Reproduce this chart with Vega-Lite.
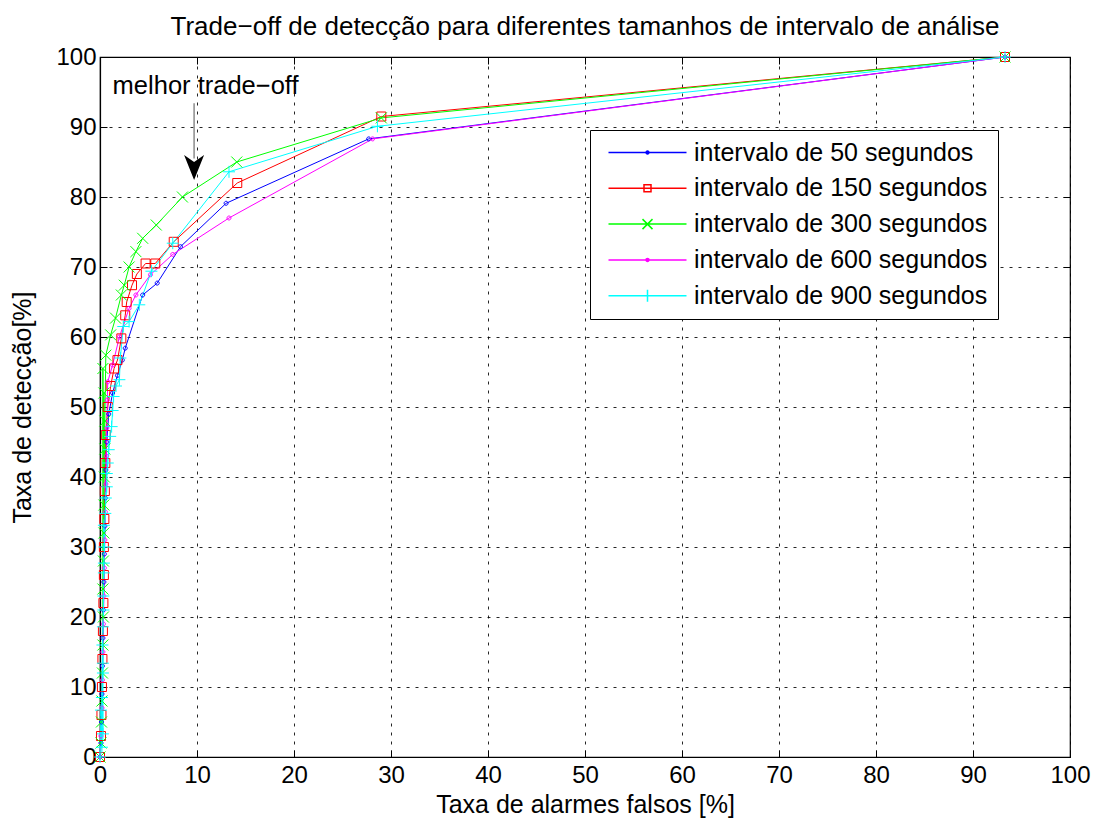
{
  "$schema": "https://vega.github.io/schema/vega-lite/v6.json",
  "width": 970,
  "height": 700,
  "autosize": "none",
  "padding": {"left": 100, "top": 57, "right": 24, "bottom": 69},
  "background": "white",
  "config": {
    "font": "Liberation Sans",
    "view": {"stroke": "black", "strokeWidth": 1.2}
  },
  "title": {
    "text": "Trade−off de detecção para diferentes tamanhos de intervalo de análise",
    "fontSize": 26,
    "fontWeight": "normal",
    "font": "Liberation Sans",
    "color": "black",
    "anchor": "middle",
    "baseline": "alphabetic",
    "offset": -16
  },
  "datasets": {
    "roc": [
      {"series": "intervalo de 50 segundos", "fa": 0, "det": 0},
      {"series": "intervalo de 50 segundos", "fa": 0.1, "det": 2},
      {"series": "intervalo de 50 segundos", "fa": 0.15, "det": 5},
      {"series": "intervalo de 50 segundos", "fa": 0.2, "det": 9},
      {"series": "intervalo de 50 segundos", "fa": 0.25, "det": 13},
      {"series": "intervalo de 50 segundos", "fa": 0.3, "det": 17},
      {"series": "intervalo de 50 segundos", "fa": 0.35, "det": 21},
      {"series": "intervalo de 50 segundos", "fa": 0.4, "det": 25},
      {"series": "intervalo de 50 segundos", "fa": 0.45, "det": 29},
      {"series": "intervalo de 50 segundos", "fa": 0.5, "det": 33},
      {"series": "intervalo de 50 segundos", "fa": 0.55, "det": 37},
      {"series": "intervalo de 50 segundos", "fa": 0.6, "det": 41},
      {"series": "intervalo de 50 segundos", "fa": 0.7, "det": 45},
      {"series": "intervalo de 50 segundos", "fa": 0.9, "det": 49},
      {"series": "intervalo de 50 segundos", "fa": 1.3, "det": 52},
      {"series": "intervalo de 50 segundos", "fa": 1.8, "det": 54.5},
      {"series": "intervalo de 50 segundos", "fa": 2.3, "det": 56.7},
      {"series": "intervalo de 50 segundos", "fa": 2.6, "det": 58.4},
      {"series": "intervalo de 50 segundos", "fa": 4.4, "det": 66},
      {"series": "intervalo de 50 segundos", "fa": 5.9, "det": 67.7},
      {"series": "intervalo de 50 segundos", "fa": 8.3, "det": 72.9},
      {"series": "intervalo de 50 segundos", "fa": 13.0, "det": 79.1},
      {"series": "intervalo de 50 segundos", "fa": 27.7, "det": 88.3},
      {"series": "intervalo de 50 segundos", "fa": 93.3, "det": 100},

      {"series": "intervalo de 150 segundos", "fa": 0, "det": 0},
      {"series": "intervalo de 150 segundos", "fa": 0.1, "det": 3},
      {"series": "intervalo de 150 segundos", "fa": 0.15, "det": 6},
      {"series": "intervalo de 150 segundos", "fa": 0.2, "det": 10},
      {"series": "intervalo de 150 segundos", "fa": 0.25, "det": 14},
      {"series": "intervalo de 150 segundos", "fa": 0.3, "det": 18},
      {"series": "intervalo de 150 segundos", "fa": 0.35, "det": 22},
      {"series": "intervalo de 150 segundos", "fa": 0.4, "det": 26},
      {"series": "intervalo de 150 segundos", "fa": 0.4, "det": 30},
      {"series": "intervalo de 150 segundos", "fa": 0.45, "det": 34},
      {"series": "intervalo de 150 segundos", "fa": 0.5, "det": 38},
      {"series": "intervalo de 150 segundos", "fa": 0.55, "det": 42},
      {"series": "intervalo de 150 segundos", "fa": 0.6, "det": 46},
      {"series": "intervalo de 150 segundos", "fa": 0.8, "det": 50},
      {"series": "intervalo de 150 segundos", "fa": 1.1, "det": 53},
      {"series": "intervalo de 150 segundos", "fa": 1.45, "det": 55.5},
      {"series": "intervalo de 150 segundos", "fa": 1.8, "det": 56.7},
      {"series": "intervalo de 150 segundos", "fa": 2.2, "det": 59.8},
      {"series": "intervalo de 150 segundos", "fa": 2.6, "det": 63.1},
      {"series": "intervalo de 150 segundos", "fa": 2.75, "det": 65},
      {"series": "intervalo de 150 segundos", "fa": 3.3, "det": 67.4},
      {"series": "intervalo de 150 segundos", "fa": 3.8, "det": 69},
      {"series": "intervalo de 150 segundos", "fa": 4.7, "det": 70.5},
      {"series": "intervalo de 150 segundos", "fa": 5.7, "det": 70.5},
      {"series": "intervalo de 150 segundos", "fa": 7.6, "det": 73.6},
      {"series": "intervalo de 150 segundos", "fa": 14.15, "det": 82.0},
      {"series": "intervalo de 150 segundos", "fa": 29.0, "det": 91.5},
      {"series": "intervalo de 150 segundos", "fa": 93.3, "det": 100},

      {"series": "intervalo de 300 segundos", "fa": 0, "det": 0},
      {"series": "intervalo de 300 segundos", "fa": 0.1, "det": 2},
      {"series": "intervalo de 300 segundos", "fa": 0.15, "det": 5},
      {"series": "intervalo de 300 segundos", "fa": 0.2, "det": 8},
      {"series": "intervalo de 300 segundos", "fa": 0.25, "det": 12},
      {"series": "intervalo de 300 segundos", "fa": 0.3, "det": 16},
      {"series": "intervalo de 300 segundos", "fa": 0.35, "det": 20},
      {"series": "intervalo de 300 segundos", "fa": 0.3, "det": 24},
      {"series": "intervalo de 300 segundos", "fa": 0.35, "det": 28},
      {"series": "intervalo de 300 segundos", "fa": 0.4, "det": 32},
      {"series": "intervalo de 300 segundos", "fa": 0.4, "det": 36},
      {"series": "intervalo de 300 segundos", "fa": 0.45, "det": 40},
      {"series": "intervalo de 300 segundos", "fa": 0.5, "det": 44},
      {"series": "intervalo de 300 segundos", "fa": 0.5, "det": 48},
      {"series": "intervalo de 300 segundos", "fa": 0.4, "det": 52},
      {"series": "intervalo de 300 segundos", "fa": 0.3, "det": 55.5},
      {"series": "intervalo de 300 segundos", "fa": 0.6, "det": 57.4},
      {"series": "intervalo de 300 segundos", "fa": 1.1, "det": 60.3},
      {"series": "intervalo de 300 segundos", "fa": 1.6, "det": 62.7},
      {"series": "intervalo de 300 segundos", "fa": 2.2, "det": 66},
      {"series": "intervalo de 300 segundos", "fa": 2.5, "det": 67.4},
      {"series": "intervalo de 300 segundos", "fa": 3.0, "det": 70},
      {"series": "intervalo de 300 segundos", "fa": 3.7, "det": 72.2},
      {"series": "intervalo de 300 segundos", "fa": 4.4, "det": 74.1},
      {"series": "intervalo de 300 segundos", "fa": 5.8, "det": 76},
      {"series": "intervalo de 300 segundos", "fa": 8.5, "det": 80},
      {"series": "intervalo de 300 segundos", "fa": 14.1, "det": 85},
      {"series": "intervalo de 300 segundos", "fa": 29.0, "det": 91.3},
      {"series": "intervalo de 300 segundos", "fa": 93.3, "det": 100},

      {"series": "intervalo de 600 segundos", "fa": 0, "det": 0},
      {"series": "intervalo de 600 segundos", "fa": 0.1, "det": 3},
      {"series": "intervalo de 600 segundos", "fa": 0.2, "det": 7},
      {"series": "intervalo de 600 segundos", "fa": 0.25, "det": 11},
      {"series": "intervalo de 600 segundos", "fa": 0.3, "det": 15},
      {"series": "intervalo de 600 segundos", "fa": 0.35, "det": 19},
      {"series": "intervalo de 600 segundos", "fa": 0.4, "det": 23},
      {"series": "intervalo de 600 segundos", "fa": 0.45, "det": 27},
      {"series": "intervalo de 600 segundos", "fa": 0.5, "det": 31},
      {"series": "intervalo de 600 segundos", "fa": 0.55, "det": 35},
      {"series": "intervalo de 600 segundos", "fa": 0.6, "det": 39},
      {"series": "intervalo de 600 segundos", "fa": 0.65, "det": 43},
      {"series": "intervalo de 600 segundos", "fa": 0.7, "det": 47},
      {"series": "intervalo de 600 segundos", "fa": 0.75, "det": 51},
      {"series": "intervalo de 600 segundos", "fa": 0.8, "det": 53.6},
      {"series": "intervalo de 600 segundos", "fa": 1.3, "det": 56},
      {"series": "intervalo de 600 segundos", "fa": 2.0, "det": 60},
      {"series": "intervalo de 600 segundos", "fa": 3.0, "det": 64.1},
      {"series": "intervalo de 600 segundos", "fa": 3.7, "det": 66},
      {"series": "intervalo de 600 segundos", "fa": 5.2, "det": 68.9},
      {"series": "intervalo de 600 segundos", "fa": 7.5, "det": 71.8},
      {"series": "intervalo de 600 segundos", "fa": 13.3, "det": 77.0},
      {"series": "intervalo de 600 segundos", "fa": 28.1, "det": 88.3},
      {"series": "intervalo de 600 segundos", "fa": 93.3, "det": 100},

      {"series": "intervalo de 900 segundos", "fa": 0, "det": 0},
      {"series": "intervalo de 900 segundos", "fa": 0.2, "det": 1.4},
      {"series": "intervalo de 900 segundos", "fa": 0.3, "det": 3.3},
      {"series": "intervalo de 900 segundos", "fa": 0.1, "det": 6.7},
      {"series": "intervalo de 900 segundos", "fa": 0.2, "det": 8.5},
      {"series": "intervalo de 900 segundos", "fa": 0.3, "det": 12},
      {"series": "intervalo de 900 segundos", "fa": 0.3, "det": 13.4},
      {"series": "intervalo de 900 segundos", "fa": 0.25, "det": 16},
      {"series": "intervalo de 900 segundos", "fa": 0.3, "det": 18.6},
      {"series": "intervalo de 900 segundos", "fa": 0.35, "det": 21},
      {"series": "intervalo de 900 segundos", "fa": 0.35, "det": 23},
      {"series": "intervalo de 900 segundos", "fa": 0.4, "det": 26.3},
      {"series": "intervalo de 900 segundos", "fa": 0.4, "det": 27.7},
      {"series": "intervalo de 900 segundos", "fa": 0.45, "det": 30},
      {"series": "intervalo de 900 segundos", "fa": 0.4, "det": 33.1},
      {"series": "intervalo de 900 segundos", "fa": 0.55, "det": 34.8},
      {"series": "intervalo de 900 segundos", "fa": 0.6, "det": 37},
      {"series": "intervalo de 900 segundos", "fa": 0.7, "det": 38.6},
      {"series": "intervalo de 900 segundos", "fa": 0.7, "det": 40.5},
      {"series": "intervalo de 900 segundos", "fa": 0.8, "det": 42},
      {"series": "intervalo de 900 segundos", "fa": 0.9, "det": 43.9},
      {"series": "intervalo de 900 segundos", "fa": 1.05, "det": 45.8},
      {"series": "intervalo de 900 segundos", "fa": 1.2, "det": 47.2},
      {"series": "intervalo de 900 segundos", "fa": 1.3, "det": 49.5},
      {"series": "intervalo de 900 segundos", "fa": 1.4, "det": 51.5},
      {"series": "intervalo de 900 segundos", "fa": 1.65, "det": 53},
      {"series": "intervalo de 900 segundos", "fa": 2.0, "det": 53.9},
      {"series": "intervalo de 900 segundos", "fa": 2.1, "det": 57},
      {"series": "intervalo de 900 segundos", "fa": 2.4, "det": 61.5},
      {"series": "intervalo de 900 segundos", "fa": 3.0, "det": 62.2},
      {"series": "intervalo de 900 segundos", "fa": 4.05, "det": 64.6},
      {"series": "intervalo de 900 segundos", "fa": 5.3, "det": 69.4},
      {"series": "intervalo de 900 segundos", "fa": 7.5, "det": 73.4},
      {"series": "intervalo de 900 segundos", "fa": 13.3, "det": 83.6},
      {"series": "intervalo de 900 segundos", "fa": 28.6, "det": 90.1},
      {"series": "intervalo de 900 segundos", "fa": 93.3, "det": 100}
    ]
  },
  "data": {"name": "roc"},
  "layer": [
    {
      "mark": {"type": "line", "strokeWidth": 1},
      "encoding": {
        "x": {
          "field": "fa",
          "type": "quantitative",
          "scale": {"domain": [0, 100], "nice": false, "zero": false},
          "axis": {
            "orient": "bottom",
            "values": [0, 10, 20, 30, 40, 50, 60, 70, 80, 90, 100],
            "grid": true,
            "gridColor": "black",
            "gridDash": [3, 6],
            "gridWidth": 1,
            "gridOpacity": 0.85,
            "domainColor": "black",
            "domainWidth": 1.2,
            "tickColor": "black",
            "tickSize": -7,
            "labelPadding": 13,
            "labelFontSize": 24,
            "labelColor": "black",
            "labelFont": "Liberation Sans",
            "labelFlush": false,
            "labelOverlap": false,
            "title": "Taxa de alarmes falsos [%]",
            "titleFont": "Liberation Sans",
            "titleFontSize": 25,
            "titleFontWeight": "normal",
            "titleColor": "black",
            "titlePadding": 5
          }
        },
        "y": {
          "field": "det",
          "type": "quantitative",
          "scale": {"domain": [0, 100], "nice": false, "zero": false},
          "axis": {
            "orient": "left",
            "values": [0, 10, 20, 30, 40, 50, 60, 70, 80, 90, 100],
            "grid": true,
            "gridColor": "black",
            "gridDash": [3, 6],
            "gridWidth": 1,
            "gridOpacity": 0.85,
            "domainColor": "black",
            "domainWidth": 1.2,
            "tickColor": "black",
            "tickSize": -7,
            "labelPadding": 11,
            "labelFontSize": 24,
            "labelColor": "black",
            "labelFont": "Liberation Sans",
            "labelFlush": false,
            "labelOverlap": false,
            "title": "Taxa de detecção[%]",
            "titleFont": "Liberation Sans",
            "titleFontSize": 25,
            "titleFontWeight": "normal",
            "titleColor": "black",
            "titlePadding": 20
          }
        },
        "color": {
          "field": "series",
          "type": "nominal",
          "scale": {
            "domain": ["intervalo de 50 segundos", "intervalo de 150 segundos", "intervalo de 300 segundos", "intervalo de 600 segundos", "intervalo de 900 segundos"],
            "range": ["#0000ff", "#ff0000", "#00ff00", "#ff00ff", "#00ffff"]
          },
          "legend": null
        },
        "order": [
          {"field": "det", "type": "quantitative"},
          {"field": "fa", "type": "quantitative"}
        ]
      }
    },
    {
      "mark": {"type": "point", "filled": false, "size": 100, "strokeWidth": 1, "opacity": 1},
      "encoding": {
        "x": {"field": "fa", "type": "quantitative", "axis": null},
        "y": {"field": "det", "type": "quantitative", "axis": null},
        "color": {
          "field": "series",
          "type": "nominal",
          "scale": {
            "domain": ["intervalo de 50 segundos", "intervalo de 150 segundos", "intervalo de 300 segundos", "intervalo de 600 segundos", "intervalo de 900 segundos"],
            "range": ["#0000ff", "#ff0000", "#00ff00", "#ff00ff", "#00ffff"]
          },
          "legend": null
        },
        "shape": {
          "field": "series",
          "type": "nominal",
          "scale": {
            "domain": ["intervalo de 50 segundos", "intervalo de 150 segundos", "intervalo de 300 segundos", "intervalo de 600 segundos", "intervalo de 900 segundos"],
            "range": [
              "M-0.4,0A0.4,0.4 0 1,1 0.4,0A0.4,0.4 0 1,1 -0.4,0",
              "M-0.9,-0.9H0.9V0.9H-0.9Z",
              "M-1.1,-1.1L1.1,1.1M1.1,-1.1L-1.1,1.1",
              "M-0.4,0A0.4,0.4 0 1,1 0.4,0A0.4,0.4 0 1,1 -0.4,0",
              "M0,-1.2V1.2M-1.2,0H1.2"
            ]
          },
          "legend": null
        }
      }
    },
    {
      "mark": {"type": "point", "filled": false, "opacity": 0},
      "encoding": {
        "x": {"field": "fa", "type": "quantitative", "axis": null},
        "y": {"field": "det", "type": "quantitative", "axis": null},
        "color": {
          "field": "series",
          "type": "nominal",
          "scale": {
            "domain": ["intervalo de 50 segundos", "intervalo de 150 segundos", "intervalo de 300 segundos", "intervalo de 600 segundos", "intervalo de 900 segundos"],
            "range": ["#0000ff", "#ff0000", "#00ff00", "#ff00ff", "#00ffff"]
          },
          "legend": {
            "title": null,
            "orient": "none",
            "legendX": 490,
            "legendY": 73,
            "strokeColor": "black",
            "fillColor": "white",
            "padding": 10,
            "symbolSize": 400,
            "symbolStrokeWidth": 1.5,
            "symbolOpacity": 1,
            "symbolOffset": 35,
            "labelOffset": 34,
            "labelFontSize": 25,
            "labelFont": "Liberation Sans",
            "labelColor": "black",
            "labelLimit": 400,
            "rowPadding": 9.8
          }
        },
        "shape": {
          "field": "series",
          "type": "nominal",
          "scale": {
            "domain": ["intervalo de 50 segundos", "intervalo de 150 segundos", "intervalo de 300 segundos", "intervalo de 600 segundos", "intervalo de 900 segundos"],
            "range": [
              "M-3.9,0H3.9M-0.15,0A0.15,0.15 0 1,1 0.15,0A0.15,0.15 0 1,1 -0.15,0",
              "M-3.9,0H3.9M-0.35,-0.35H0.35V0.35H-0.35Z",
              "M-3.9,0H3.9M-0.5,-0.5L0.5,0.5M0.5,-0.5L-0.5,0.5",
              "M-3.9,0H3.9M-0.15,0A0.15,0.15 0 1,1 0.15,0A0.15,0.15 0 1,1 -0.15,0",
              "M-3.9,0H3.9M0,-0.6V0.6"
            ]
          },
          "legend": {
            "title": null,
            "orient": "none",
            "legendX": 490,
            "legendY": 73,
            "strokeColor": "black",
            "fillColor": "white",
            "padding": 10,
            "symbolSize": 400,
            "symbolStrokeWidth": 1.5,
            "symbolOpacity": 1,
            "symbolOffset": 35,
            "labelOffset": 34,
            "labelFontSize": 25,
            "labelFont": "Liberation Sans",
            "labelColor": "black",
            "labelLimit": 400,
            "rowPadding": 9.8
          }
        }
      }
    },
    {
      "data": {"values": [{"fa": 1.3, "det": 95.8, "note": "melhor trade−off"}]},
      "mark": {"type": "text", "align": "left", "baseline": "middle", "fontSize": 25.5, "font": "Liberation Sans", "color": "black"},
      "encoding": {
        "x": {
          "field": "fa",
          "type": "quantitative",
          "axis": {
            "orient": "top",
            "values": [0, 10, 20, 30, 40, 50, 60, 70, 80, 90, 100],
            "labels": false,
            "grid": false,
            "domain": false,
            "tickColor": "black",
            "tickSize": -7,
            "title": null
          }
        },
        "y": {
          "field": "det",
          "type": "quantitative",
          "axis": {
            "orient": "right",
            "values": [0, 10, 20, 30, 40, 50, 60, 70, 80, 90, 100],
            "labels": false,
            "grid": false,
            "domain": false,
            "tickColor": "black",
            "tickSize": -7,
            "title": null
          }
        },
        "text": {"field": "note"}
      }
    },
    {
      "data": {"values": [{"fa": 9.7, "top": 93.4, "bottom": 85.5}]},
      "mark": {"type": "rule", "color": "#8c8c8c", "strokeWidth": 1.5},
      "encoding": {
        "x": {"field": "fa", "type": "quantitative", "axis": null},
        "y": {"field": "top", "type": "quantitative", "axis": null},
        "y2": {"field": "bottom"}
      }
    },
    {
      "data": {"values": [{"fa": 9.7, "det": 84.2}]},
      "mark": {"type": "point", "filled": true, "color": "black", "opacity": 1, "size": 625, "shape": "M0,1L-0.8,-1L0,-0.45L0.8,-1Z"},
      "encoding": {
        "x": {"field": "fa", "type": "quantitative", "axis": null},
        "y": {"field": "det", "type": "quantitative", "axis": null}
      }
    }
  ],
  "resolve": {
    "scale": {"color": "independent", "shape": "independent"},
    "axis": {"x": "independent", "y": "independent"}
  }
}
